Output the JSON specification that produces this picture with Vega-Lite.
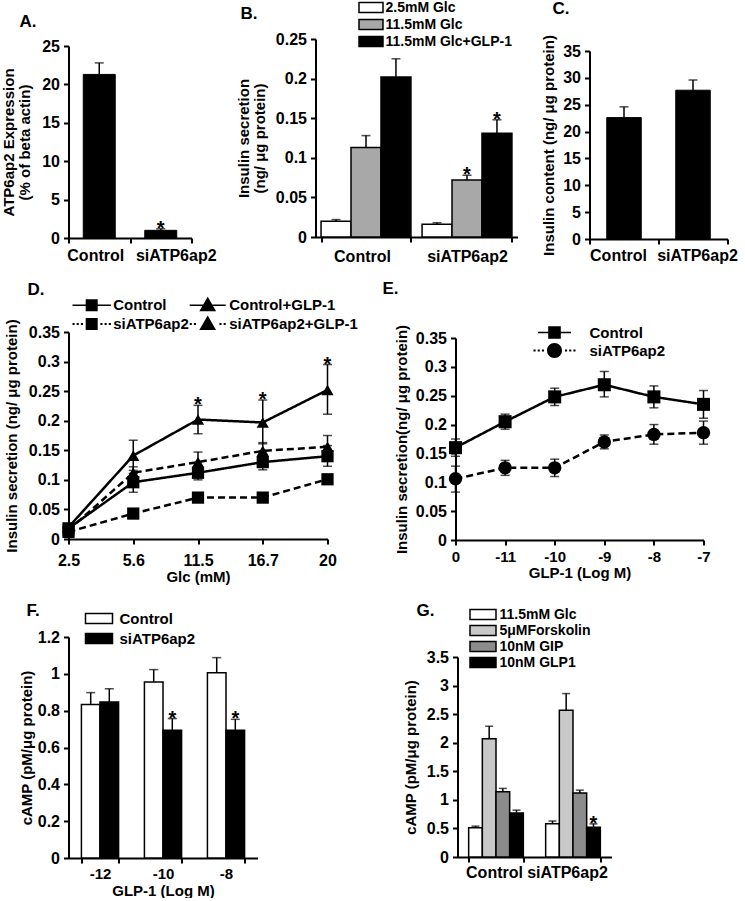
{
"$schema":"https://vega.github.io/schema/vega-lite/v6.json",
"background":"white",
"padding":{"left":0.5,"top":0,"right":0,"bottom":0},
"autosize":{"type":"pad"},
"config":{
 "font":"Liberation Sans",
 "view":{"stroke":null},
 "axis":{"domainColor":"black","domainWidth":2,"tickColor":"black","tickWidth":2,"tickSize":5,"labelFont":"Liberation Sans","labelFontWeight":"bold","labelFontSize":16,"labelColor":"black","titleFont":"Liberation Sans","titleFontWeight":"bold","titleFontSize":15,"titleColor":"black","grid":false,"labelPadding":4,"titlePadding":4,"labelOverlap":false},
 "axisY":{"format":"~g","titleLineHeight":16,"labelOverlap":false},
 "legend":{"labelFont":"Liberation Sans","labelFontWeight":"bold","labelColor":"black","padding":0,"title":null},
 "title":{"anchor":"start","frame":"group","fontSize":17,"font":"Liberation Sans","fontWeight":"bold","baseline":"alphabetic","color":"black"}
},
"resolve":{"scale":{"xOffset":"independent","fill":"independent","shape":"independent","strokeDash":"independent","size":"independent","color":"independent"}},
"spacing":5,
"vconcat":[
 {"spacing":10,"resolve":{"scale":{"xOffset":"independent","fill":"independent","shape":"independent","strokeDash":"independent","size":"independent","color":"independent"}},"hconcat":[
  {"bounds":"flush","spacing":0,"resolve":{"scale":{"xOffset":"independent","fill":"independent","color":"independent"}},"vconcat":[
   {"width":150,"height":46,"data":{"values":[{"a":0}]},"mark":{"type":"point","opacity":0},"encoding":{"y":{"field":"a","type":"quantitative","scale":{"domain":[0,1]},"axis":{"title":null,"labels":false,"ticks":false,"domainColor":"transparent","domainWidth":1,"offset":68}}}},
   {"width":123,"height":192,
    "title":{"text":"A.","dx":-49,"offset":7},
    "data":{"values":[{"g":"Control","v":21.3,"hi":22.8,"s":""},{"g":"siATP6ap2","v":1.0,"hi":1.2,"s":"*"}]},
    "encoding":{"x":{"field":"g","type":"nominal","sort":null,"scale":{"paddingInner":0,"paddingOuter":0},"axis":{"title":null,"labelAngle":0,"tickBand":"extent","labelPadding":4,"labelOffset":{"expr":"datum.value === 'Control' ? -4 : 15"}}}},
    "layer":[
     {"mark":{"type":"bar","fill":"black","stroke":"black","strokeWidth":1,"width":{"band":0.52}},"encoding":{"y":{"field":"v","type":"quantitative","scale":{"domain":[0,25],"nice":false},"axis":{"values":[0,5,10,15,20,25],"tickCount":50,"labelOverlap":false,"title":["ATP6ap2 Expression","(% of beta actin)"],"titlePadding":9}}}},
     {"mark":{"type":"rule","color":"black","strokeWidth":1.5},"encoding":{"y":{"field":"v","type":"quantitative"},"y2":{"field":"hi"}}},
     {"mark":{"type":"tick","color":"black","size":9,"thickness":1.5},"encoding":{"y":{"field":"hi","type":"quantitative"}}},
     {"mark":{"type":"text","fontSize":20,"fontWeight":"bold","baseline":"alphabetic","dy":6,"color":"black"},"encoding":{"y":{"field":"hi","type":"quantitative"},"text":{"field":"s"}}}
    ]},
   {"width":123,"height":37,"data":{"values":[]},"mark":"point"}
  ]},
  {"bounds":"flush","spacing":0,"resolve":{"scale":{"xOffset":"independent","fill":"independent","color":"independent"}},"vconcat":[
   {"width":205,"height":39,"data":{"values":[{"a":0}]},"mark":{"type":"point","opacity":0},"encoding":{"y":{"field":"a","type":"quantitative","scale":{"domain":[0,1]},"axis":{"title":null,"labels":false,"ticks":false,"domainColor":"transparent","domainWidth":1,"offset":87}}}},
   {"width":202,"height":198,
    "title":{"text":"B.","dx":-75,"offset":-22.5},
    "data":{"values":[
     {"g":"Control","c":"2.5mM Glc","v":0.020,"hi":0.022,"s":""},
     {"g":"Control","c":"11.5mM Glc","v":0.113,"hi":0.128,"s":""},
     {"g":"Control","c":"11.5mM Glc+GLP-1","v":0.202,"hi":0.225,"s":""},
     {"g":"siATP6ap2","c":"2.5mM Glc","v":0.016,"hi":0.018,"s":""},
     {"g":"siATP6ap2","c":"11.5mM Glc","v":0.072,"hi":0.078,"s":"*"},
     {"g":"siATP6ap2","c":"11.5mM Glc+GLP-1","v":0.131,"hi":0.148,"s":"*"}]},
    "encoding":{
     "x":{"field":"g","type":"nominal","sort":null,"scale":{"paddingInner":0.11,"paddingOuter":0.055},"axis":{"title":null,"labelAngle":0,"tickBand":"extent","labelPadding":6,"labelOffset":{"expr":"datum.value === 'Control' ? -4 : 0"}}},
     "xOffset":{"field":"c","type":"nominal","scale":{"domain":["2.5mM Glc","11.5mM Glc","11.5mM Glc+GLP-1"],"paddingInner":0,"paddingOuter":0}}},
    "layer":[
     {"mark":{"type":"bar","stroke":"black","strokeWidth":1.5},"encoding":{
       "y":{"field":"v","type":"quantitative","scale":{"domain":[0,0.25],"nice":false},"axis":{"values":[0,0.05,0.1,0.15,0.2,0.25],"tickCount":50,"labelOverlap":false,"title":["Insulin secretion","(ng/ μg protein)"],"titlePadding":8}},
       "fill":{"field":"c","type":"nominal","scale":{"domain":["2.5mM Glc","11.5mM Glc","11.5mM Glc+GLP-1"],"range":["white","#a8a8a8","black"]},
        "legend":{"orient":"none","legendX":48.5,"legendY":-38.5,"symbolType":"M-2.4,-1H2.4V1H-2.4Z","symbolSize":100,"symbolStrokeColor":"black","symbolStrokeWidth":1.5,"labelOffset":7.5,"rowPadding":1,"labelFontSize":14}}}},
     {"mark":{"type":"rule","color":"black","strokeWidth":1.5},"encoding":{"y":{"field":"v","type":"quantitative"},"y2":{"field":"hi"}}},
     {"mark":{"type":"tick","color":"black","size":9,"thickness":1.5},"encoding":{"y":{"field":"hi","type":"quantitative"}}},
     {"mark":{"type":"text","fontSize":20,"fontWeight":"bold","baseline":"alphabetic","dy":6,"color":"black"},"encoding":{"y":{"field":"hi","type":"quantitative"},"text":{"field":"s"}}}
    ]},
   {"width":202,"height":38,"data":{"values":[]},"mark":"point"}
  ]},
  {"bounds":"flush","spacing":0,"resolve":{"scale":{"xOffset":"independent","fill":"independent","color":"independent"}},"vconcat":[
   {"width":138,"height":51,"data":{"values":[{"a":0}]},"mark":{"type":"point","opacity":0},"encoding":{"y":{"field":"a","type":"quantitative","scale":{"domain":[0,1]},"axis":{"title":null,"labels":false,"ticks":false,"domainColor":"transparent","domainWidth":1,"offset":59}}}},
   {"width":138,"height":188,
    "title":{"text":"C.","dx":-37,"offset":16.5},
    "data":{"values":[{"g":"Control","v":22.6,"hi":24.6},{"g":"siATP6ap2","v":27.7,"hi":29.6}]},
    "encoding":{"x":{"field":"g","type":"nominal","sort":null,"scale":{"paddingInner":0,"paddingOuter":0},"axis":{"title":null,"labelAngle":0,"tickBand":"extent","labelPadding":3,"labelOffset":{"expr":"datum.value === 'Control' ? -6 : 4"}}}},
    "layer":[
     {"mark":{"type":"bar","fill":"black","stroke":"black","strokeWidth":1,"width":{"band":0.5}},"encoding":{"y":{"field":"v","type":"quantitative","scale":{"domain":[0,35],"nice":false},"axis":{"values":[0,5,10,15,20,25,30,35],"tickCount":50,"labelOverlap":false,"title":"Insulin content (ng/ μg protein)","titlePadding":6}}}},
     {"mark":{"type":"rule","color":"black","strokeWidth":1.5},"encoding":{"y":{"field":"v","type":"quantitative"},"y2":{"field":"hi"}}},
     {"mark":{"type":"tick","color":"black","size":9,"thickness":1.5},"encoding":{"y":{"field":"hi","type":"quantitative"}}}
    ]},
   {"width":138,"height":36,"data":{"values":[]},"mark":"point"}
  ]}
 ]},
 {"spacing":10,"resolve":{"scale":{"xOffset":"independent","fill":"independent","shape":"independent","strokeDash":"independent","size":"independent","color":"independent"}},"hconcat":[
  {"bounds":"flush","spacing":0,"resolve":{"scale":{"shape":"independent","strokeDash":"independent","size":"independent","color":"independent"}},"vconcat":[
   {"width":300,"height":52,"data":{"values":[{"a":0}]},"mark":{"type":"point","opacity":0},"encoding":{"y":{"field":"a","type":"quantitative","scale":{"domain":[0,1]},"axis":{"title":null,"labels":false,"ticks":false,"domainColor":"transparent","domainWidth":1,"offset":68}}}},
   {"width":259,"height":207,
    "title":{"text":"D.","dx":-41,"offset":-1},
    "data":{"values":[
     {"series":"Control","glc":"2.5","v":0.018,"lo":0.015,"hi":0.021,"s":""},
     {"series":"Control","glc":"5.6","v":0.096,"lo":0.079,"hi":0.111,"s":""},
     {"series":"Control","glc":"11.5","v":0.112,"lo":0.100,"hi":0.124,"s":""},
     {"series":"Control","glc":"16.7","v":0.130,"lo":0.117,"hi":0.143,"s":""},
     {"series":"Control","glc":"20","v":0.140,"lo":0.123,"hi":0.158,"s":""},
     {"series":"Control+GLP-1","glc":"2.5","v":0.020,"lo":0.015,"hi":0.025,"s":""},
     {"series":"Control+GLP-1","glc":"5.6","v":0.141,"lo":0.116,"hi":0.167,"s":""},
     {"series":"Control+GLP-1","glc":"11.5","v":0.202,"lo":0.178,"hi":0.226,"s":"*"},
     {"series":"Control+GLP-1","glc":"16.7","v":0.197,"lo":0.161,"hi":0.235,"s":"*"},
     {"series":"Control+GLP-1","glc":"20","v":0.252,"lo":0.211,"hi":0.295,"s":"*"},
     {"series":"siATP6ap2","glc":"2.5","v":0.012,"lo":0.010,"hi":0.014,"s":""},
     {"series":"siATP6ap2","glc":"5.6","v":0.043,"lo":0.041,"hi":0.045,"s":""},
     {"series":"siATP6ap2","glc":"11.5","v":0.070,"lo":0.068,"hi":0.072,"s":""},
     {"series":"siATP6ap2","glc":"16.7","v":0.070,"lo":0.068,"hi":0.072,"s":""},
     {"series":"siATP6ap2","glc":"20","v":0.101,"lo":0.095,"hi":0.107,"s":""},
     {"series":"siATP6ap2+GLP-1","glc":"2.5","v":0.015,"lo":0.012,"hi":0.018,"s":""},
     {"series":"siATP6ap2+GLP-1","glc":"5.6","v":0.112,"lo":0.102,"hi":0.122,"s":""},
     {"series":"siATP6ap2+GLP-1","glc":"11.5","v":0.130,"lo":0.113,"hi":0.147,"s":""},
     {"series":"siATP6ap2+GLP-1","glc":"16.7","v":0.149,"lo":0.134,"hi":0.163,"s":""},
     {"series":"siATP6ap2+GLP-1","glc":"20","v":0.156,"lo":0.137,"hi":0.175,"s":""}]},
    "encoding":{"x":{"field":"glc","type":"ordinal","scale":{"type":"point","padding":0,"domain":["2.5","5.6","11.5","16.7","20"]},"axis":{"title":"Glc (mM)","labelAngle":0,"labelPadding":8,"titlePadding":1}}},
    "layer":[
     {"mark":{"type":"line","color":"black","strokeWidth":2.5},"encoding":{
       "y":{"field":"v","type":"quantitative","scale":{"domain":[0,0.35],"nice":false},"axis":{"values":[0,0.05,0.1,0.15,0.2,0.25,0.3,0.35],"tickCount":50,"labelOverlap":false,"title":"Insulin secretion (ng/ μg protein)","titlePadding":9}},
       "detail":{"field":"series"},
       "strokeDash":{"field":"series","type":"nominal","scale":{"domain":["Control","Control+GLP-1","siATP6ap2","siATP6ap2+GLP-1"],"range":[[1,0],[1,0],[7,4],[7,4]]},"legend":null}}},
     {"mark":{"type":"rule","color":"black","strokeWidth":1.5},"encoding":{"y":{"field":"lo","type":"quantitative"},"y2":{"field":"hi"}}},
     {"mark":{"type":"tick","color":"black","size":9,"thickness":1.5},"encoding":{"y":{"field":"lo","type":"quantitative"}}},
     {"mark":{"type":"tick","color":"black","size":9,"thickness":1.5},"encoding":{"y":{"field":"hi","type":"quantitative"}}},
     {"mark":{"type":"point","filled":true,"color":"black","size":150,"opacity":1},"encoding":{"y":{"field":"v","type":"quantitative"},
       "shape":{"field":"series","type":"nominal","scale":{"domain":["Control","Control+GLP-1","siATP6ap2","siATP6ap2+GLP-1"],"range":["square","triangle-up","square","triangle-up"]},"legend":null}}},
     {"mark":{"type":"text","fontSize":20,"fontWeight":"bold","baseline":"alphabetic","dy":6,"color":"black"},"encoding":{"y":{"field":"hi","type":"quantitative"},"text":{"field":"s"}}},
     {"data":{"values":[]},"mark":{"type":"point","filled":true,"color":"black","opacity":1},"encoding":{
       "shape":{"field":"series","type":"nominal","scale":{"domain":["Control","siATP6ap2","Control+GLP-1","siATP6ap2+GLP-1"],"range":[
         "M-3.2,-0.11H3.2V0.11H-3.2Z M-1,-1H1V1H-1Z",
         "M-3.2,-0.15H-2.85V0.15H-3.2Z M-2.5,-0.15H-2.15V0.15H-2.5Z M-1.8,-0.15H-1.45V0.15H-1.8Z M1.45,-0.15H1.8V0.15H1.45Z M2.15,-0.15H2.5V0.15H2.15Z M2.85,-0.15H3.2V0.15H2.85Z M-1,-1H1V1H-1Z",
         "M-3,-0.11H3V0.11H-3Z M0,-1.4L1.4,1L-1.4,1Z",
         "M-3,-0.15H-2.65V0.15H-3Z M-2.3,-0.15H-1.95V0.15H-2.3Z M1.95,-0.15H2.3V0.15H1.95Z M2.65,-0.15H3V0.15H2.65Z M0,-1.4L1.4,1L-1.4,1Z"]},
         "legend":{"orient":"none","legendX":15.7,"legendY":-34.5,"columns":2,"columnPadding":0,"rowPadding":2,"symbolSize":144,"labelOffset":14,"labelFontSize":15,"symbolFillColor":"black","symbolStrokeColor":"black","symbolStrokeWidth":0,"symbolOpacity":1}}}}
    ],
    "resolve":{"scale":{"shape":"independent","strokeDash":"independent"}}},
   {"width":259,"height":56,"data":{"values":[]},"mark":"point"}
  ]},
  {"bounds":"flush","spacing":0,"resolve":{"scale":{"shape":"independent","strokeDash":"independent","size":"independent","color":"independent"}},"vconcat":[
   {"width":248,"height":58,"data":{"values":[{"a":0}]},"mark":{"type":"point","opacity":0},"encoding":{"y":{"field":"a","type":"quantitative","scale":{"domain":[0,1]},"axis":{"title":null,"labels":false,"ticks":false,"domainColor":"transparent","domainWidth":1,"offset":77}}}},
   {"width":248,"height":202,
    "title":{"text":"E.","dx":-73,"offset":26},
    "data":{"values":[
     {"series":"Control","x":"0","v":0.160,"lo":0.145,"hi":0.175},
     {"series":"Control","x":"-11","v":0.205,"lo":0.192,"hi":0.218},
     {"series":"Control","x":"-10","v":0.248,"lo":0.233,"hi":0.263},
     {"series":"Control","x":"-9","v":0.269,"lo":0.248,"hi":0.292},
     {"series":"Control","x":"-8","v":0.248,"lo":0.229,"hi":0.267},
     {"series":"Control","x":"-7","v":0.235,"lo":0.211,"hi":0.259},
     {"series":"siATP6ap2","x":"0","v":0.106,"lo":0.083,"hi":0.128},
     {"series":"siATP6ap2","x":"-11","v":0.125,"lo":0.112,"hi":0.138},
     {"series":"siATP6ap2","x":"-10","v":0.125,"lo":0.110,"hi":0.140},
     {"series":"siATP6ap2","x":"-9","v":0.170,"lo":0.158,"hi":0.182},
     {"series":"siATP6ap2","x":"-8","v":0.183,"lo":0.166,"hi":0.200},
     {"series":"siATP6ap2","x":"-7","v":0.186,"lo":0.166,"hi":0.206}]},
    "encoding":{"x":{"field":"x","type":"ordinal","scale":{"type":"point","padding":0,"domain":["0","-11","-10","-9","-8","-7"]},"axis":{"title":"GLP-1 (Log M)","labelAngle":0,"labelFontSize":15,"labelPadding":4,"titlePadding":1}}},
    "layer":[
     {"mark":{"type":"line","color":"black","strokeWidth":2.5},"encoding":{
       "y":{"field":"v","type":"quantitative","scale":{"domain":[0,0.35],"nice":false},"axis":{"values":[0,0.05,0.1,0.15,0.2,0.25,0.3,0.35],"tickCount":50,"labelOverlap":false,"title":"Insulin secretion(ng/ μg protein)","titlePadding":6}},
       "detail":{"field":"series"},
       "strokeDash":{"field":"series","type":"nominal","scale":{"domain":["Control","siATP6ap2"],"range":[[1,0],[7,4]]},"legend":null}}},
     {"mark":{"type":"rule","color":"black","strokeWidth":1.5},"encoding":{"y":{"field":"lo","type":"quantitative"},"y2":{"field":"hi"}}},
     {"mark":{"type":"tick","color":"black","size":9,"thickness":1.5},"encoding":{"y":{"field":"lo","type":"quantitative"}}},
     {"mark":{"type":"tick","color":"black","size":9,"thickness":1.5},"encoding":{"y":{"field":"hi","type":"quantitative"}}},
     {"mark":{"type":"point","filled":true,"color":"black","opacity":1},"encoding":{"y":{"field":"v","type":"quantitative"},
       "shape":{"field":"series","type":"nominal","scale":{"domain":["Control","siATP6ap2"],"range":["square","circle"]},"legend":null},
       "size":{"field":"series","type":"nominal","scale":{"domain":["Control","siATP6ap2"],"range":[170,180]},"legend":null}}},
     {"data":{"values":[]},"mark":{"type":"point","filled":true,"color":"black","opacity":1},"encoding":{
       "shape":{"field":"series","type":"nominal","scale":{"domain":["Control","siATP6ap2"],"range":[
         "M-2.75,-0.11H2.75V0.11H-2.75Z M-1.05,-1.05H1.05V1.05H-1.05Z",
         "M-3.5,-0.15H-3.15V0.15H-3.5Z M-2.8,-0.15H-2.45V0.15H-2.8Z M-2.1,-0.15H-1.75V0.15H-2.1Z M1.75,-0.15H2.1V0.15H1.75Z M2.45,-0.15H2.8V0.15H2.45Z M3.15,-0.15H3.5V0.15H3.15Z M-1.25,0A1.25,1.25 0 1,0 1.25,0A1.25,1.25 0 1,0 -1.25,0Z"]},
         "legend":{"orient":"none","legendX":91.5,"legendY":-13,"rowPadding":2,"symbolSize":144,"labelOffset":27.5,"labelFontSize":15,"symbolFillColor":"black","symbolStrokeColor":"black","symbolStrokeWidth":0,"symbolOpacity":1}}}}
    ],
    "resolve":{"scale":{"shape":"independent","strokeDash":"independent","size":"independent"}}},
   {"width":248,"height":55,"data":{"values":[]},"mark":"point"}
  ]}
 ]},
 {"spacing":10,"resolve":{"scale":{"xOffset":"independent","fill":"independent","shape":"independent","strokeDash":"independent","size":"independent","color":"independent"}},"hconcat":[
  {"bounds":"flush","spacing":0,"resolve":{"scale":{"xOffset":"independent","fill":"independent","color":"independent"}},"vconcat":[
   {"width":205,"height":37,"data":{"values":[{"a":0}]},"mark":{"type":"point","opacity":0},"encoding":{"y":{"field":"a","type":"quantitative","scale":{"domain":[0,1]},"axis":{"title":null,"labels":false,"ticks":false,"domainColor":"transparent","domainWidth":1,"offset":68}}}},
   {"width":189,"height":221,
    "title":{"text":"F.","dx":-42,"offset":-9},
    "data":{"values":[
     {"x":"-12","c":"Control","v":0.834,"hi":0.898,"s":""},
     {"x":"-12","c":"siATP6ap2","v":0.847,"hi":0.919,"s":""},
     {"x":"-10","c":"Control","v":0.956,"hi":1.023,"s":""},
     {"x":"-10","c":"siATP6ap2","v":0.693,"hi":0.757,"s":"*"},
     {"x":"-8","c":"Control","v":1.006,"hi":1.088,"s":""},
     {"x":"-8","c":"siATP6ap2","v":0.693,"hi":0.753,"s":"*"}]},
    "encoding":{
     "x":{"field":"x","type":"nominal","sort":null,"scale":{"paddingInner":0.41,"paddingOuter":0.205},"axis":{"title":"GLP-1 (Log M)","labelAngle":0,"tickBand":"extent","labelFontSize":15,"labelPadding":3,"titlePadding":2}},
     "xOffset":{"field":"c","type":"nominal","scale":{"domain":["Control","siATP6ap2"],"paddingInner":0,"paddingOuter":0}}},
    "layer":[
     {"mark":{"type":"bar","stroke":"black","strokeWidth":1.5},"encoding":{
       "y":{"field":"v","type":"quantitative","scale":{"domain":[0,1.2],"nice":false},"axis":{"values":[0,0.2,0.4,0.6,0.8,1,1.2],"tickCount":50,"labelOverlap":false,"title":"cAMP (pM/μg protein)","titlePadding":3}},
       "fill":{"field":"c","type":"nominal","scale":{"domain":["Control","siATP6ap2"],"range":["white","black"]},
        "legend":{"orient":"none","legendX":23,"legendY":-26,"symbolType":"M-2.7,-1H2.7V1H-2.7Z","symbolSize":100,"symbolStrokeColor":"black","symbolStrokeWidth":1.5,"labelOffset":13,"rowPadding":3,"labelFontSize":15}}}},
     {"mark":{"type":"rule","color":"black","strokeWidth":1.5},"encoding":{"y":{"field":"v","type":"quantitative"},"y2":{"field":"hi"}}},
     {"mark":{"type":"tick","color":"black","size":9,"thickness":1.5},"encoding":{"y":{"field":"hi","type":"quantitative"}}},
     {"mark":{"type":"text","fontSize":20,"fontWeight":"bold","baseline":"alphabetic","dy":6,"color":"black"},"encoding":{"y":{"field":"hi","type":"quantitative"},"text":{"field":"s"}}}
    ]},
   {"width":189,"height":40,"data":{"values":[]},"mark":"point"}
  ]},
  {"bounds":"flush","spacing":0,"resolve":{"scale":{"xOffset":"independent","fill":"independent","color":"independent"}},"vconcat":[
   {"width":160,"height":57,"data":{"values":[{"a":0}]},"mark":{"type":"point","opacity":0},"encoding":{"y":{"field":"a","type":"quantitative","scale":{"domain":[0,1]},"axis":{"title":null,"labels":false,"ticks":false,"domainColor":"transparent","domainWidth":1,"offset":174}}}},
   {"width":154,"height":200,
    "title":{"text":"G.","dx":-41,"offset":-12.5},
    "data":{"values":[
     {"g":"Control","c":"11.5mM Glc","v":0.51,"hi":0.54,"s":""},
     {"g":"Control","c":"5μMForskolin","v":2.07,"hi":2.29,"s":""},
     {"g":"Control","c":"10nM GIP","v":1.14,"hi":1.2,"s":""},
     {"g":"Control","c":"10nM GLP1","v":0.77,"hi":0.82,"s":""},
     {"g":"siATP6ap2","c":"11.5mM Glc","v":0.58,"hi":0.63,"s":""},
     {"g":"siATP6ap2","c":"5μMForskolin","v":2.57,"hi":2.86,"s":""},
     {"g":"siATP6ap2","c":"10nM GIP","v":1.12,"hi":1.17,"s":""},
     {"g":"siATP6ap2","c":"10nM GLP1","v":0.52,"hi":0.58,"s":"*"}]},
    "encoding":{
     "x":{"field":"g","type":"nominal","sort":null,"scale":{"paddingInner":0.29,"paddingOuter":0.145},"axis":{"title":null,"labelAngle":0,"tickBand":"extent","labelPadding":2,"labelOffset":{"expr":"datum.value === 'Control' ? -2 : -6"}}},
     "xOffset":{"field":"c","type":"nominal","scale":{"domain":["11.5mM Glc","5μMForskolin","10nM GIP","10nM GLP1"],"paddingInner":0,"paddingOuter":0}}},
    "layer":[
     {"mark":{"type":"bar","stroke":"black","strokeWidth":1.5},"encoding":{
       "y":{"field":"v","type":"quantitative","scale":{"domain":[0,3.5],"nice":false},"axis":{"values":[0,0.5,1,1.5,2,2.5,3,3.5],"tickCount":50,"labelOverlap":false,"title":"cAMP (pM/μg protein)","titlePadding":8}},
       "fill":{"field":"c","type":"nominal","scale":{"domain":["11.5mM Glc","5μMForskolin","10nM GIP","10nM GLP1"],"range":["white","#c8c8c8","#8c8c8c","black"]},
        "legend":{"orient":"none","legendX":18.5,"legendY":-49.5,"symbolType":"M-2.6,-1H2.6V1H-2.6Z","symbolSize":100,"symbolStrokeColor":"black","symbolStrokeWidth":1.5,"labelOffset":9.5,"rowPadding":0,"labelFontSize":14}}}},
     {"mark":{"type":"rule","color":"black","strokeWidth":1.5},"encoding":{"y":{"field":"v","type":"quantitative"},"y2":{"field":"hi"}}},
     {"mark":{"type":"tick","color":"black","size":8,"thickness":1.5},"encoding":{"y":{"field":"hi","type":"quantitative"}}},
     {"mark":{"type":"text","fontSize":20,"fontWeight":"bold","baseline":"alphabetic","dy":6,"color":"black"},"encoding":{"y":{"field":"hi","type":"quantitative"},"text":{"field":"s"}}}
    ]},
   {"width":154,"height":41,"data":{"values":[]},"mark":"point"}
  ]}
 ]}
]
}
